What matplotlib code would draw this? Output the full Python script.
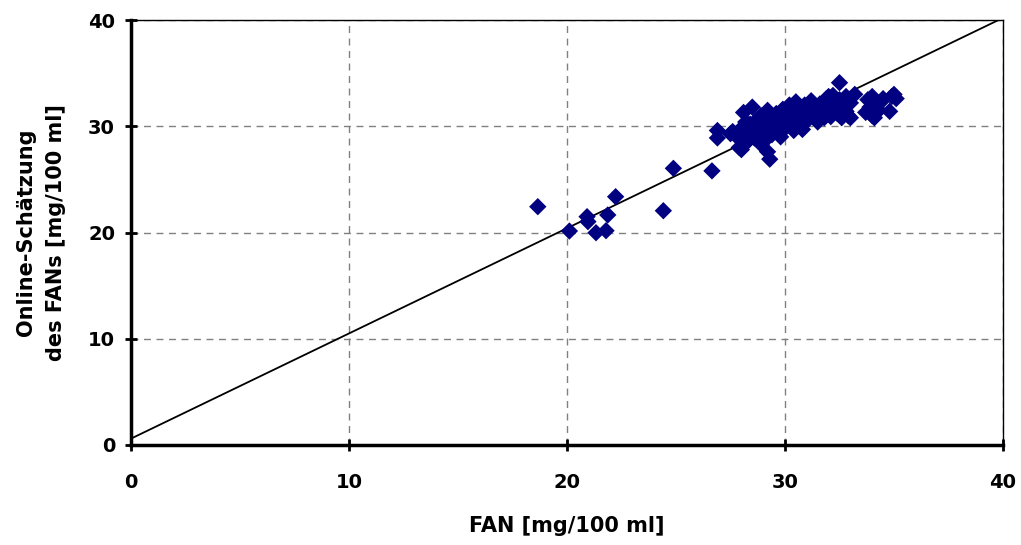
import matplotlib
matplotlib.use("Agg")
import matplotlib.pyplot as plt

# FAN reference measurement vs. online estimate [mg/100 ml]
fan_measured = [
    18.66, 20.11, 20.92, 20.96, 21.33, 21.79, 21.87, 22.23, 24.42, 24.88, 26.65,
    27.6, 27.8, 27.9, 28.0, 28.0, 28.1, 28.2, 28.3, 28.4, 28.5, 28.5, 28.6, 28.7,
    28.8, 28.9, 28.9, 29.0, 29.0, 29.1, 29.2, 29.3, 29.2, 29.3, 29.4, 29.5, 29.6,
    29.6, 29.7, 29.8, 29.9, 30.0, 30.0, 30.1, 30.2, 30.3, 30.3, 30.4, 30.5, 30.5,
    30.6, 30.7, 30.8, 30.8, 30.9, 31.0, 31.1, 31.2, 31.3, 31.4, 31.5, 31.6, 31.7,
    31.8, 31.9, 32.0, 32.1, 32.2, 32.3, 32.4, 32.5, 32.5, 32.6, 32.7, 32.8, 32.9,
    33.0, 33.8, 33.9, 34.0, 34.0, 34.1, 34.2, 34.3, 34.5, 34.8, 34.9, 35.0, 35.1,
    33.7, 26.9, 26.9, 28.2, 29.8, 30.9, 31.5, 32.0, 33.0, 33.2, 27.5, 28.6,
    29.1, 29.9, 30.6, 31.2, 32.3, 32.8, 28.4, 34.4,
]
fan_online = [
    22.43, 20.14, 21.49, 21.02, 19.98, 20.17, 21.65, 23.37, 22.05, 26.04, 25.8,
    29.5, 29.0, 28.0, 27.8, 29.8, 31.3, 29.2, 28.6, 30.2, 31.8, 29.6, 28.9, 30.6,
    29.9, 28.3, 31.0, 29.4, 30.4, 28.7, 27.6, 26.9, 31.5, 30.0, 29.2, 30.8, 29.7,
    31.2, 30.3, 29.0, 31.6, 30.5, 29.8, 31.0, 32.0, 30.2, 31.4, 29.6, 32.3, 30.8,
    31.7, 30.1, 31.2, 29.7, 32.0, 30.6, 31.5, 32.4, 30.9, 31.8, 30.4, 32.1, 31.2,
    30.8, 32.6, 31.5, 30.9, 32.9, 31.9, 31.2, 34.1, 32.5, 30.8, 31.6, 32.8, 31.0,
    32.2, 32.5, 31.8, 31.0, 32.8, 30.8, 32.0, 31.5, 32.6, 31.4, 32.8, 33.0, 32.6,
    31.3, 29.6, 28.9, 30.4, 30.9, 30.3, 31.0, 32.8, 30.8, 33.0, 29.3, 30.0,
    30.1, 30.0, 31.1, 31.9, 32.2, 31.4, 29.4, 32.3,
]

# Reference line (ideal agreement)
line_x = [0, 40]
line_y = [0.6, 40.2]

ticks = [0, 10, 20, 30, 40]

plt.rcParams["font.family"] = ["DejaVu Sans"]

fig = plt.figure(figsize=(10.21, 5.45), dpi=100)
ax = fig.add_axes([131 / 1021, 100 / 545, 872 / 1021, 425 / 545])

ax.plot(line_x, line_y, color="black", lw=1.3, zorder=2)
ax.scatter(fan_measured, fan_online, marker="D", s=78, color="#000080",
           edgecolors="none", zorder=3)

ax.set_xlim(0, 40)
ax.set_ylim(0, 40)
ax.set_xticks(ticks)
ax.set_yticks(ticks)
ax.grid(True, color="#808080", linestyle=(0, (5, 4)), lw=1.0)
ax.set_axisbelow(True)

for side in ("top", "right"):
    ax.spines[side].set_linewidth(1.0)
for side in ("left", "bottom"):
    ax.spines[side].set_linewidth(2.5)

ax.tick_params(axis="both", direction="inout", length=9, width=2,
               labelsize=14)
ax.tick_params(axis="x", pad=16)
ax.tick_params(axis="y", pad=7)
for lab in ax.get_xticklabels() + ax.get_yticklabels():
    lab.set_fontweight("bold")

ax.set_xlabel("FAN [mg/100 ml]", fontsize=15, fontweight="bold", labelpad=17)
ax.set_ylabel("Online-Schätzung\ndes FANs [mg/100 ml]", fontsize=15,
              fontweight="bold", labelpad=16, linespacing=1.6)

fig.savefig("out.png", dpi=100)
